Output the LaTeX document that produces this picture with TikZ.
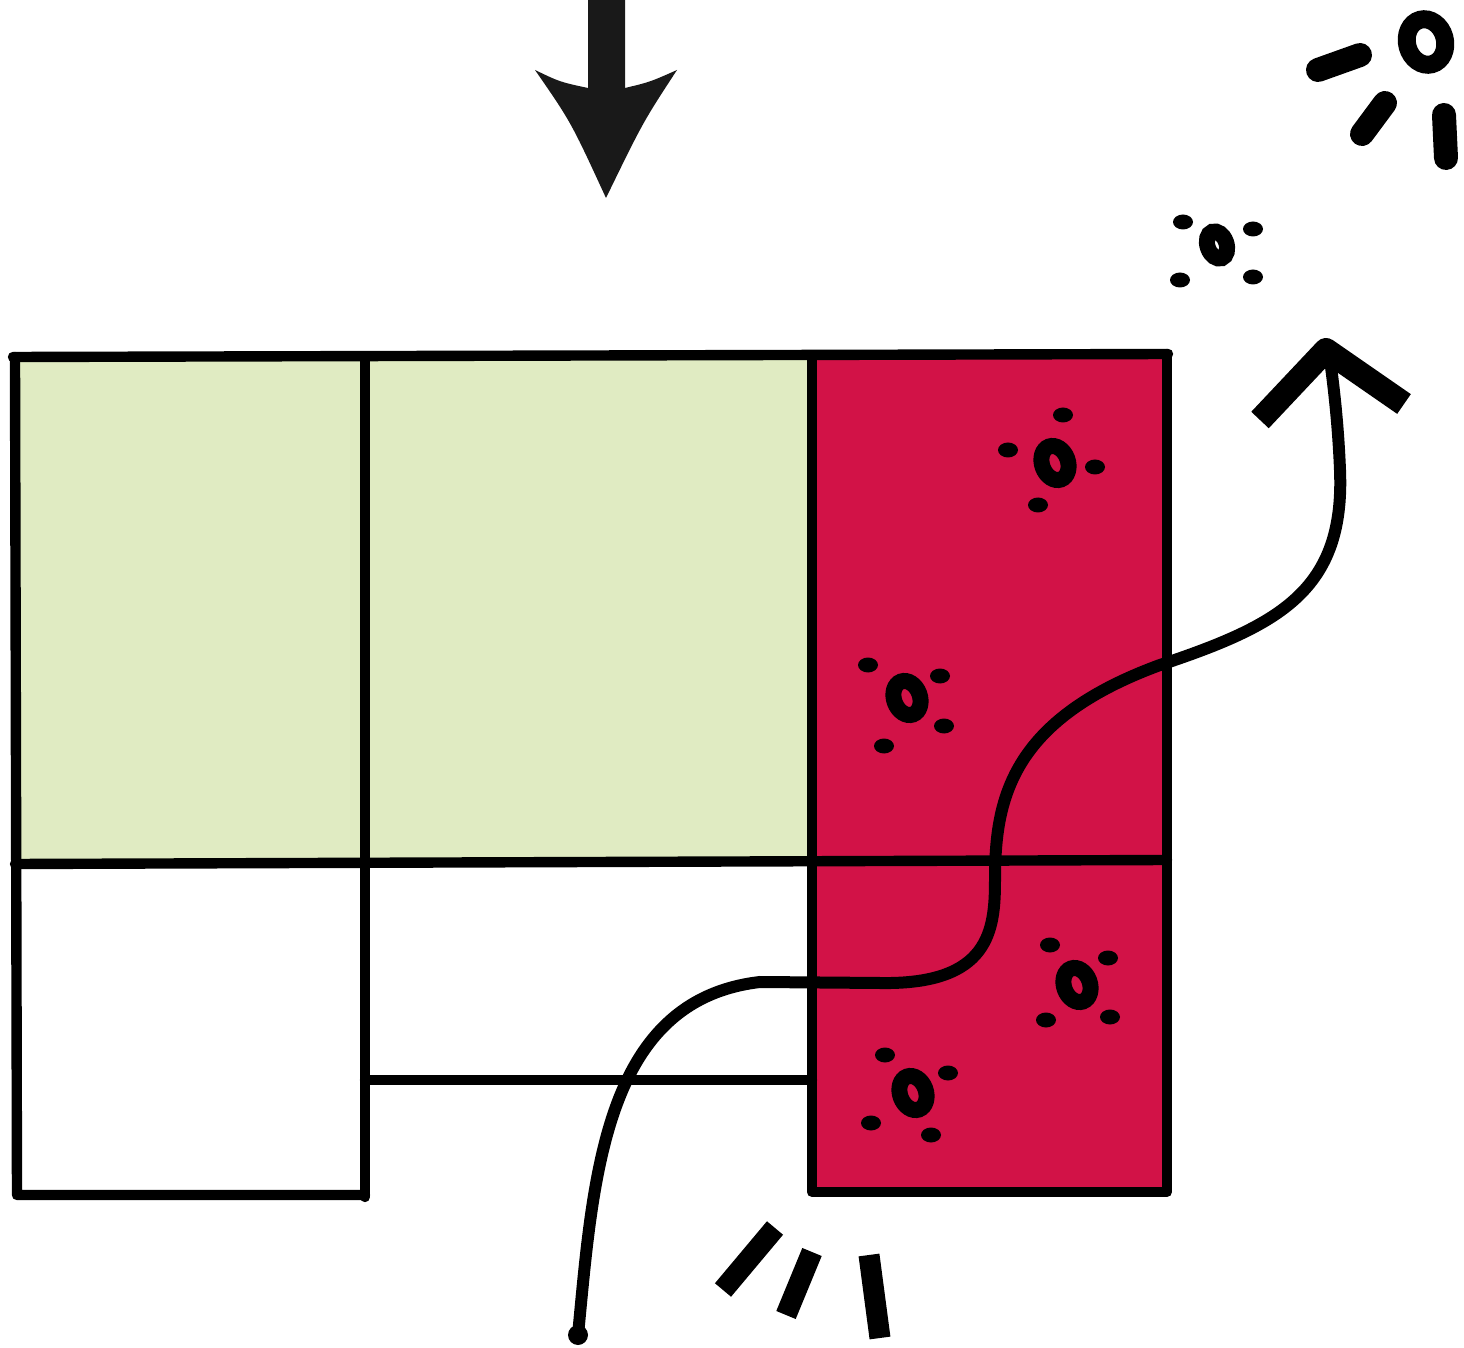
\documentclass[tikz,border=0pt]{standalone}
\definecolor{leaf}{HTML}{E0EBC2}
\definecolor{berry}{HTML}{D21247}
\tikzset{
  wall/.style={line width=5.2pt, line join=round, line cap=round},
  ringmark/.style={line width=8pt},
  blob/.style={fill=black},
  flow/.style={line width=6pt, line cap=round},
}
\begin{document}
\begin{tikzpicture}[x=0.5pt,y=-0.5pt]
\path[use as bounding box] (0,0) rectangle (1464,1348);
% fills
\fill[leaf] (15,357) rectangle (812,862);
\fill[berry] (812,355) rectangle (1167,1192);
% grid
\draw[wall] (13,357) -- (1168,354);
\draw[wall] (15,357) -- (17,1195) -- (365,1195);
\draw[wall] (365,359) -- (365,1197);
\draw[wall] (812,357) -- (812,1192) -- (1167,1192) -- (1167,354);
\draw[wall] (15,864) -- (1167,860);
\draw[wall] (365,1080) -- (812,1080);
% top arrow
\fill[black!90] (588,0) -- (625,0) -- (625,88) .. controls (650,82) .. (677,70)
  .. controls (643,122) .. (606,198) .. controls (571,122) .. (535,70)
  .. controls (560,82) .. (588,88) -- cycle;
% bacteria clusters
\foreach \cx/\cy/\ax/\ay/\bx/\by/\ccx/\ccy/\dx/\dy in {
  1055/463/1063/415/1008/450/1095/467/1038/505,
  907/698/868/665/940/676/944/726/884/746,
  1077/985/1050/945/1108/958/1110/1017/1046/1020,
  913/1093/885/1055/948/1073/931/1135/871/1123}{
  \draw[ringmark,rotate around={20:(\cx,\cy)}] (\cx,\cy) ellipse [x radius=13, y radius=17.5];
  \fill[blob] (\ax,\ay) ellipse [x radius=10, y radius=7.5];
  \fill[blob] (\bx,\by) ellipse [x radius=10, y radius=7.5];
  \fill[blob] (\ccx,\ccy) ellipse [x radius=10, y radius=7.5];
  \fill[blob] (\dx,\dy) ellipse [x radius=10, y radius=7.5];
}
% cluster outside
\draw[line width=8pt,rotate around={20:(1217,245)}] (1217,245) ellipse [x radius=9.5, y radius=14];
\foreach \px/\py in {1183/222,1253/229,1253/277,1180/280}
  \fill[blob] (\px,\py) ellipse [x radius=10, y radius=7.5];
% flow curve
\fill (578,1335) circle [radius=10];
\draw[flow] (578,1335) .. controls (593,1180) and (603,1000) .. (760,982)
  -- (880,983) .. controls (990,985) and (995,930) .. (995,880)
  .. controls (995,800) and (1010,720) .. (1160,665)
  .. controls (1280,625) and (1345,590) .. (1340,470)
  .. controls (1338,420) and (1333,380) .. (1328,345);
\draw[line width=12pt, line join=round, line cap=butt] (1260,420) -- (1326,350) -- (1404,404);
% sparkle top right
\draw[line width=9pt, rotate around={15:(1426,42)}] (1426,42) ellipse [x radius=19, y radius=23];
\draw[line width=12pt, line cap=round] (1318,70) -- (1360,55);
\draw[line width=12pt, line cap=round] (1362,134) -- (1385,103);
\draw[line width=12pt, line cap=round] (1444,115) -- (1446,158);
% bottom marks
\draw[line width=10.5pt] (723,1290) -- (775,1228);
\draw[line width=10.5pt] (786,1315) -- (812,1252);
\draw[line width=10.5pt] (869,1255) -- (880,1338);
\end{tikzpicture}
\end{document}
